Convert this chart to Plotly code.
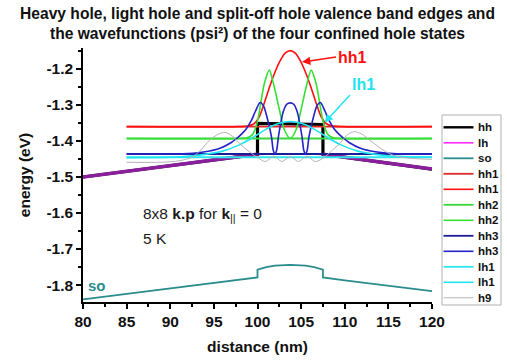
import plotly.graph_objects as go

# ---------------- data ----------------
# valence band edges (barrier part is identical for hh and lh)
barrier_left_x = [80, 85, 90, 95, 100]
barrier_left_E = [-1.500, -1.484, -1.468, -1.452, -1.437]
barrier_right_x = [107.5, 110, 115, 120]
barrier_right_E = [-1.437, -1.445, -1.462, -1.478]
hh_well_x = [100, 107.5]
hh_well_E = [-1.351, -1.354]
lh_well_x = [101.9, 103.75, 105.6]
lh_well_E = [-1.436, -1.435, -1.436]

so_x = [80, 90, 100, 100, 101, 102, 103.75, 105.5, 106.5, 107.5, 107.5, 110, 115, 120]
so_E = [-1.840, -1.810, -1.779, -1.757, -1.750, -1.746, -1.744, -1.746, -1.750, -1.757,
        -1.779, -1.787, -1.802, -1.817]

# confined state energies (eV)
level_x = [85, 120]
hh1_E = -1.360
hh2_E = -1.393
hh3_E = -1.436
lh1_E = -1.445

# wavefunctions psi^2, drawn offset to their energy level
hh1_x = [85, 98.0, 99.0, 99.6, 100.2, 100.8, 101.4, 102.0, 102.6, 103.2, 103.75,
         104.3, 104.9, 105.5, 106.1, 106.7, 107.3, 107.9, 108.5, 109.5, 120]
hh1_psi = [-1.360, -1.360, -1.358, -1.352, -1.333, -1.293, -1.2485, -1.209, -1.177, -1.1555, -1.149,
           -1.1555, -1.177, -1.209, -1.2485, -1.293, -1.333, -1.352, -1.358, -1.360, -1.360]

hh2_x = [85, 97.8, 98.8, 99.4, 99.9, 100.3, 100.8, 101.35, 101.9, 102.5, 103.1, 103.75,
         104.4, 105.0, 105.6, 106.15, 106.7, 107.2, 107.6, 108.1, 108.7, 109.7, 120]
hh2_psi = [-1.393, -1.393, -1.391, -1.383, -1.355, -1.305, -1.239, -1.203, -1.248, -1.312, -1.370, -1.393,
           -1.370, -1.312, -1.248, -1.203, -1.239, -1.305, -1.355, -1.383, -1.391, -1.393, -1.393]

hh3_x = [85, 90, 92, 94, 95.7, 97.0, 97.6, 98.2, 98.75, 99.3, 99.75, 100.3, 100.7, 101.05,
         101.6, 101.8, 102.0, 102.2, 102.4, 102.95, 103.35, 103.75, 104.15, 104.55, 105.1,
         105.3, 105.5, 105.7, 105.9, 106.45, 106.8, 107.2, 107.75, 108.2, 108.75, 109.3,
         109.9, 110.5, 111.8, 113.5, 115.5, 120]
hh3_psi = [-1.436, -1.436, -1.435, -1.430, -1.420, -1.404, -1.393, -1.380, -1.365, -1.343, -1.318,
           -1.293, -1.303, -1.330, -1.388, -1.425, -1.437, -1.425, -1.388, -1.319, -1.298, -1.294,
           -1.298, -1.319, -1.388, -1.425, -1.437, -1.425, -1.388, -1.330, -1.303, -1.293, -1.318,
           -1.343, -1.365, -1.380, -1.393, -1.404, -1.420, -1.430, -1.435, -1.436]

lh1_x = [85, 90, 92.25, 94, 96, 98, 99, 100, 101, 102, 103, 103.75, 104.5, 105.5, 106.5,
         107.5, 108.5, 109.5, 111.5, 113.5, 115.25, 117.5, 120]
lh1_psi = [-1.446, -1.445, -1.442, -1.437, -1.428, -1.410, -1.397, -1.382, -1.367, -1.355, -1.348,
           -1.346, -1.348, -1.355, -1.367, -1.382, -1.397, -1.410, -1.428, -1.437, -1.442, -1.444, -1.445]

h9_x = [85, 89, 91, 92.5, 93.5, 94.5, 95.5, 96.3, 97.2, 98.0, 98.8, 99.9, 100.9, 101.85,
        102.8, 103.75, 104.7, 105.65, 106.6, 107.5, 108.6, 109.5, 110.2, 111.0, 111.9,
        113.0, 114.4, 115.6, 117.1, 120]
h9_psi = [-1.459, -1.459, -1.455, -1.445, -1.425, -1.398, -1.381, -1.376, -1.388, -1.408, -1.425,
          -1.444, -1.457, -1.442, -1.457, -1.443, -1.457, -1.442, -1.457, -1.448, -1.425, -1.405,
          -1.385, -1.374, -1.380, -1.400, -1.425, -1.440, -1.447, -1.451]

y_tick_vals = [-1.8, -1.7, -1.6, -1.5, -1.4, -1.3, -1.2]
y_tick_text = ["-1.8", "-1.7", "-1.6", "-1.5", "-1.4", "-1.3", "-1.2"]
x_tick_vals = [80, 85, 90, 95, 100, 105, 110, 115, 120]

# ---------------- figure ----------------
FONT = "Liberation Sans, Arial, sans-serif"
W, H = 507, 362
ML, MR, MT, MB = 83, 75, 48, 60
PW, PH = W - ML - MR, H - MT - MB


def px_x(p):
    return (p - ML) / PW


def px_y(p):
    return (H - MB - p) / PH


fig = go.Figure()

hh_x = barrier_left_x + hh_well_x + barrier_right_x
hh_y = barrier_left_E + hh_well_E + barrier_right_E
lh_x = barrier_left_x + lh_well_x + barrier_right_x
lh_y = barrier_left_E + lh_well_E + barrier_right_E

# (name, x, y, colour, width, spline)
series = [
    ("hh", hh_x, hh_y, "#000000", 3.2, False),
    ("lh", lh_x, lh_y, "#ff2bff", 1.6, False),
    ("so", so_x, so_E, "#2b8c8c", 1.8, False),
    ("hh1", level_x, [hh1_E, hh1_E], "#e02a2a", 1.8, False),
    ("hh1", hh1_x, hh1_psi, "#ff1010", 1.6, True),
    ("hh2", level_x, [hh2_E, hh2_E], "#3ad83a", 1.8, False),
    ("hh2", hh2_x, hh2_psi, "#33e033", 1.6, True),
    ("hh3", level_x, [hh3_E, hh3_E], "#1c1c96", 1.8, False),
    ("hh3", hh3_x, hh3_psi, "#2424c8", 1.6, True),
    ("lh1", level_x, [lh1_E, lh1_E], "#2ee6ee", 1.8, False),
    ("lh1", lh1_x, lh1_psi, "#22e4f0", 1.6, True),
    ("h9", h9_x, h9_psi, "#b4b4b4", 1.0, True),
]

for i, (name, xs, ys, col, wd, spl) in enumerate(series):
    fig.add_trace(go.Scatter(
        x=xs, y=ys, name=name, mode="lines", showlegend=False,
        line=dict(color=col, width=wd, shape="spline" if spl else "linear",
                  smoothing=0.8 if spl else None),
    ))
    if i == 1:
        # barrier region where hh and lh coincide (drawn purple)
        for bx, by in ((barrier_left_x, barrier_left_E), (barrier_right_x, barrier_right_E)):
            fig.add_trace(go.Scatter(x=bx, y=by, mode="lines", showlegend=False,
                                     line=dict(color="#8a1f9c", width=3.5)))

# ---- compact legend box, like the original ----
shapes = [dict(type="rect", xref="paper", yref="paper",
               x0=px_x(442), x1=px_x(501), y0=px_y(305), y1=px_y(115),
               line=dict(color="#b0b0b0", width=1), fillcolor="white", layer="above")]
annotations = []
for i, (name, xs, ys, col, wd, spl) in enumerate(series):
    yy = px_y(127.3 + i * 15.5)
    shapes.append(dict(type="line", xref="paper", yref="paper",
                       x0=px_x(443.5), x1=px_x(473.5), y0=yy, y1=yy,
                       line=dict(color=col, width=min(wd, 2.4)), layer="above"))
    annotations.append(dict(xref="paper", yref="paper", x=px_x(475.5), y=yy,
                            text=name, showarrow=False, xanchor="left", yanchor="middle",
                            font=dict(family=FONT, size=11.5, color="#111", weight="bold")))

# ---- text labels ----
annotations += [
    dict(x=86.6, y=-1.603, xref="x", yref="y", showarrow=False, xanchor="left", yanchor="middle",
         text="8x8 <b>k.p</b> for <b>k</b><sub>||</sub> = 0",
         font=dict(family=FONT, size=15.5, color="#1a1a1a")),
    dict(x=86.6, y=-1.670, xref="x", yref="y", showarrow=False, xanchor="left", yanchor="middle",
         text="5 K", font=dict(family=FONT, size=15.5, color="#1a1a1a")),
    dict(x=80.35, y=-1.800, xref="x", yref="y", showarrow=False, xanchor="left", yanchor="middle",
         text="<b>so</b>", font=dict(family=FONT, size=15, color="#2b8c8c")),
    # labelled arrows: text box sits at the arrow tail
    dict(x=105.11, y=-1.1806, ax=109.0, ay=-1.1667, xref="x", yref="y", axref="x", ayref="y",
         text="<b>hh1</b>", showarrow=True, xanchor="left", yanchor="middle",
         arrowhead=2, arrowsize=1.1, arrowwidth=1.5, arrowcolor="#ff1010", standoff=0,
         font=dict(family=FONT, size=16, color="#ff1010")),
    dict(x=107.69, y=-1.3486, ax=110.6, ay=-1.2722, xref="x", yref="y", axref="x", ayref="y",
         text="<b>lh1</b>", showarrow=True, xanchor="left", yanchor="bottom",
         arrowhead=2, arrowsize=1.1, arrowwidth=1.5, arrowcolor="#22e4f0", standoff=0,
         font=dict(family=FONT, size=16, color="#22e4f0")),
]

axis_common = dict(
    showline=True, linecolor="#000", linewidth=1.5, mirror=False,
    ticks="outside", ticklen=5, tickwidth=1.5, tickcolor="#000",
    showgrid=False, zeroline=False, automargin=False,
    tickfont=dict(family=FONT, size=15.5, color="#111", weight="bold"),
)

fig.update_layout(
    width=W, height=H, autosize=False,
    margin=dict(l=ML, r=MR, t=MT, b=MB, autoexpand=False),
    paper_bgcolor="white", plot_bgcolor="white",
    title=dict(text="<b>Heavy hole, light hole and split-off hole valence band edges and<br>"
                    "the wavefunctions (psi²) of the four confined hole states</b>",
               x=0.5, xanchor="center", xref="paper", y=1 - 19 / H, yanchor="top", yref="container",
               font=dict(family=FONT, size=15.6, color="#111")),
    xaxis=dict(range=[80, 120], tickvals=x_tick_vals,
               minor=dict(ticks="outside", ticklen=3, dtick=2.5, tick0=80, tickcolor="#000"),
               title=dict(text="<b>distance (nm)</b>", standoff=12,
                          font=dict(family=FONT, size=15.5, color="#111")),
               **axis_common),
    yaxis=dict(range=[-1.847, -1.1417], tickvals=y_tick_vals, ticktext=y_tick_text,
               minor=dict(ticks="outside", ticklen=3, dtick=0.05, tick0=-1.8, tickcolor="#000"),
               title=dict(text="<b>energy (eV)</b>", standoff=12,
                          font=dict(family=FONT, size=15.5, color="#111")),
               **axis_common),
    shapes=shapes,
    annotations=annotations,
)

# the page's default 8px body margin would shift the 507x362 figure; remove it
fig.write_html("out.html", config={"displayModeBar": False},
               post_script="document.body.style.margin='0px';")
